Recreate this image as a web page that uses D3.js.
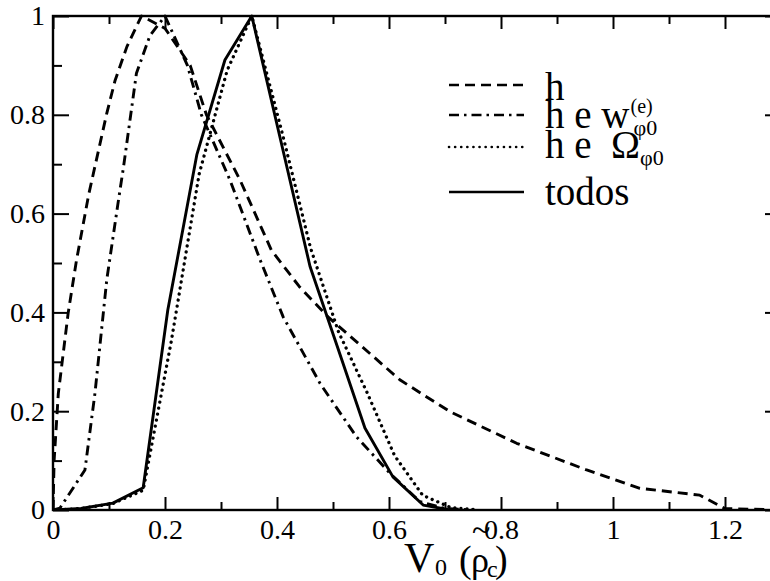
<!DOCTYPE html>
<html>
<head>
<meta charset="utf-8">
<script src="https://cdn.jsdelivr.net/npm/d3@7"></script>
<style>
  body { margin: 0; background: #fff; }
  svg { display: block; }
  svg text { font-family: "Liberation Serif", Tinos, "Times New Roman", Times, "DejaVu Serif", "Noto Serif", serif; fill: #000; }
</style>
</head>
<body>
<svg id="chart" width="770" height="581"></svg>
<script>
// Normalised distributions of V0 for each set of free parameters
const hX    = [0, 0.002, 0.0095, 0.027, 0.042, 0.064, 0.096, 0.111, 0.132, 0.158, 0.2, 0.245, 0.274, 0.334, 0.39, 0.44, 0.491, 0.62, 0.709, 0.828, 0.953, 1.048, 1.155, 1.2, 1.3];
const hY    = [0, 0.1, 0.236, 0.398, 0.506, 0.64, 0.803, 0.87, 0.938, 1.0, 0.975, 0.9, 0.80, 0.668, 0.526, 0.452, 0.391, 0.263, 0.199, 0.135, 0.081, 0.044, 0.030, 0.003, 0];

const hwX   = [0, 0.0125, 0.057, 0.075, 0.096, 0.117, 0.126, 0.149, 0.173, 0.2, 0.24, 0.265, 0.316, 0.37, 0.411, 0.477, 0.542, 0.602, 0.655, 0.7, 0.75];
const hwY   = [0, 0.004, 0.081, 0.237, 0.466, 0.628, 0.695, 0.884, 0.96, 1.0, 0.9, 0.8, 0.668, 0.506, 0.391, 0.256, 0.148, 0.074, 0.017, 0.003, 0];

const hOmX  = [0, 0.05, 0.107, 0.161, 0.211, 0.261, 0.311, 0.355, 0.41, 0.46, 0.51, 0.56, 0.61, 0.66, 0.71, 0.76];
const hOmY  = [0, 0.003, 0.013, 0.04, 0.34, 0.68, 0.89, 1.0, 0.76, 0.53, 0.36, 0.24, 0.11, 0.03, 0.005, 0];

const allX  = [0, 0.05, 0.107, 0.161, 0.205, 0.257, 0.307, 0.355, 0.405, 0.459, 0.508, 0.557, 0.607, 0.661, 0.71];
const allY  = [0, 0.003, 0.014, 0.045, 0.405, 0.72, 0.911, 1.0, 0.756, 0.493, 0.33, 0.166, 0.067, 0.01, 0];

// Axis ticks
const xMajor = [0, 0.2, 0.4, 0.6, 0.8, 1, 1.2];
const xMinor = [0.1, 0.3, 0.5, 0.7, 0.9, 1.1];
const xTickLabels = ["0", "0.2", "0.4", "0.6", "0.8", "1", "1.2"];
const yMajor = [0, 0.2, 0.4, 0.6, 0.8, 1];
const yMinor = [0.1, 0.3, 0.5, 0.7, 0.9];
const yTickLabels = ["0", "0.2", "0.4", "0.6", "0.8", "1"];

// Legend entries
const legendNames = ["h", "h e w", "h e  \u03A9", "todos"];
const legendSup   = ["", "(e)", "", ""];
const legendSub   = ["", "\u03C60", "\u03C60", ""];

const FONT = '"Liberation Serif", Tinos, "Times New Roman", Times, "DejaVu Serif", "Noto Serif", serif';

const svg = d3.select("#chart");
const M = { left: 53, top: 16, right: 781, bottom: 510 };

const x = d3.scaleLinear().domain([0, 1.3]).range([M.left, M.right]);
const y = d3.scaleLinear().domain([0, 1]).range([M.bottom, M.top]);

function styleAxis(g, fontSize) {
  g.attr("font-family", null).attr("font-size", null);
  g.select(".domain").remove();
  g.selectAll("line").attr("stroke", "#000").attr("stroke-width", 2);
  g.selectAll("text").style("font-size", fontSize + "px").style("font-family", FONT).attr("fill", "#000");
}

// bottom axis (ticks point inward)
svg.append("g").attr("transform", `translate(0,${M.bottom})`)
  .call(d3.axisBottom(x).tickValues(xMajor).tickFormat((d, i) => xTickLabels[i])
    .tickSizeInner(-13).tickSizeOuter(0).tickPadding(9))
  .call(g => styleAxis(g, 28));
svg.append("g").attr("transform", `translate(0,${M.bottom})`)
  .call(d3.axisBottom(x).tickValues(xMinor).tickFormat("").tickSizeInner(-8).tickSizeOuter(0))
  .call(g => styleAxis(g, 28));

// top axis
svg.append("g").attr("transform", `translate(0,${M.top})`)
  .call(d3.axisBottom(x).tickValues(xMajor).tickFormat("").tickSizeInner(13).tickSizeOuter(0))
  .call(g => styleAxis(g, 28));
svg.append("g").attr("transform", `translate(0,${M.top})`)
  .call(d3.axisBottom(x).tickValues(xMinor).tickFormat("").tickSizeInner(8).tickSizeOuter(0))
  .call(g => styleAxis(g, 28));

// left axis
svg.append("g").attr("transform", `translate(${M.left},0)`)
  .call(d3.axisLeft(y).tickValues(yMajor).tickFormat((d, i) => yTickLabels[i])
    .tickSizeInner(-16).tickSizeOuter(0).tickPadding(8))
  .call(g => styleAxis(g, 28));
svg.append("g").attr("transform", `translate(${M.left},0)`)
  .call(d3.axisLeft(y).tickValues(yMinor).tickFormat("").tickSizeInner(-9).tickSizeOuter(0))
  .call(g => styleAxis(g, 28));

// right axis
svg.append("g").attr("transform", `translate(${M.right},0)`)
  .call(d3.axisLeft(y).tickValues(yMajor).tickFormat("").tickSizeInner(16).tickSizeOuter(0))
  .call(g => styleAxis(g, 28));
svg.append("g").attr("transform", `translate(${M.right},0)`)
  .call(d3.axisLeft(y).tickValues(yMinor).tickFormat("").tickSizeInner(9).tickSizeOuter(0))
  .call(g => styleAxis(g, 28));

// frame
svg.append("rect")
  .attr("x", M.left).attr("y", M.top)
  .attr("width", M.right - M.left).attr("height", M.bottom - M.top)
  .attr("fill", "none").attr("stroke", "#000").attr("stroke-width", 2.4);

// curves
svg.append("clipPath").attr("id", "plotClip")
  .append("rect").attr("x", M.left).attr("y", M.top - 2)
  .attr("width", M.right - M.left).attr("height", M.bottom - M.top + 2);

const series = [
  { xs: hX,   ys: hY,   dash: "10,6",        cap: "butt"  },
  { xs: hwX,  ys: hwY,  dash: "10,5,2.5,5",  cap: "butt"  },
  { xs: hOmX, ys: hOmY, dash: "0.1,6",       cap: "round" },
  { xs: allX, ys: allY, dash: null,          cap: "butt"  }
];

const line = d3.line().x(d => x(d[0])).y(d => y(d[1]));

const curves = svg.append("g").attr("clip-path", "url(#plotClip)");
series.forEach(s => {
  const pts = s.xs.map((v, i) => [v, s.ys[i]]);
  curves.append("path").attr("d", line(pts))
    .attr("fill", "none").attr("stroke", "#000")
    .attr("stroke-width", s.cap === "round" ? 3.3 : 2.9)
    .attr("stroke-linecap", s.cap).attr("stroke-linejoin", "round")
    .attr("stroke-dasharray", s.dash);
});

// legend
const legLineY = [85, 115, 147, 192];
const legTextY = [100, 128, 158, 205];
const leg = svg.append("g");
series.forEach((s, i) => {
  leg.append("line")
    .attr("x1", 449).attr("x2", 524)
    .attr("y1", legLineY[i]).attr("y2", legLineY[i])
    .attr("stroke", "#000")
    .attr("stroke-width", s.cap === "round" ? 2.6 : 2.4)
    .attr("stroke-linecap", s.cap)
    .attr("stroke-dasharray", s.dash);
  const t = leg.append("text").attr("x", 545).attr("y", legTextY[i])
    .style("font-size", "39px").style("white-space", "pre").text(legendNames[i]);
  const w = t.node().getComputedTextLength();
  if (legendSup[i]) {
    leg.append("text").attr("x", 545 + w + 1).attr("y", legTextY[i] - 15)
      .style("font-size", "20px").text(legendSup[i]);
  }
  if (legendSub[i]) {
    leg.append("text").attr("x", 545 + w + (legendSup[i] ? 4 : 0)).attr("y", legTextY[i] + 7)
      .style("font-size", "22px").text(legendSub[i]);
  }
});

// x-axis title: V0 (rho~ c)
const xt = svg.append("g");
xt.append("text").attr("x", 404).attr("y", 572).style("font-size", "42px").text("V");
xt.append("text").attr("x", 435).attr("y", 575).style("font-size", "24px").text("0");
xt.append("text").attr("x", 459).attr("y", 572).style("font-size", "38px").text("(");
xt.append("text").attr("x", 471).attr("y", 572).style("font-size", "36px").text("\u03C1");
xt.append("text").attr("x", 487).attr("y", 577).style("font-size", "24px").text("c");
xt.append("text").attr("x", 495).attr("y", 572).style("font-size", "38px").text(")");
xt.append("text").attr("x", 472).attr("y", 541).style("font-size", "34px").text("~");
</script>
</body>
</html>
